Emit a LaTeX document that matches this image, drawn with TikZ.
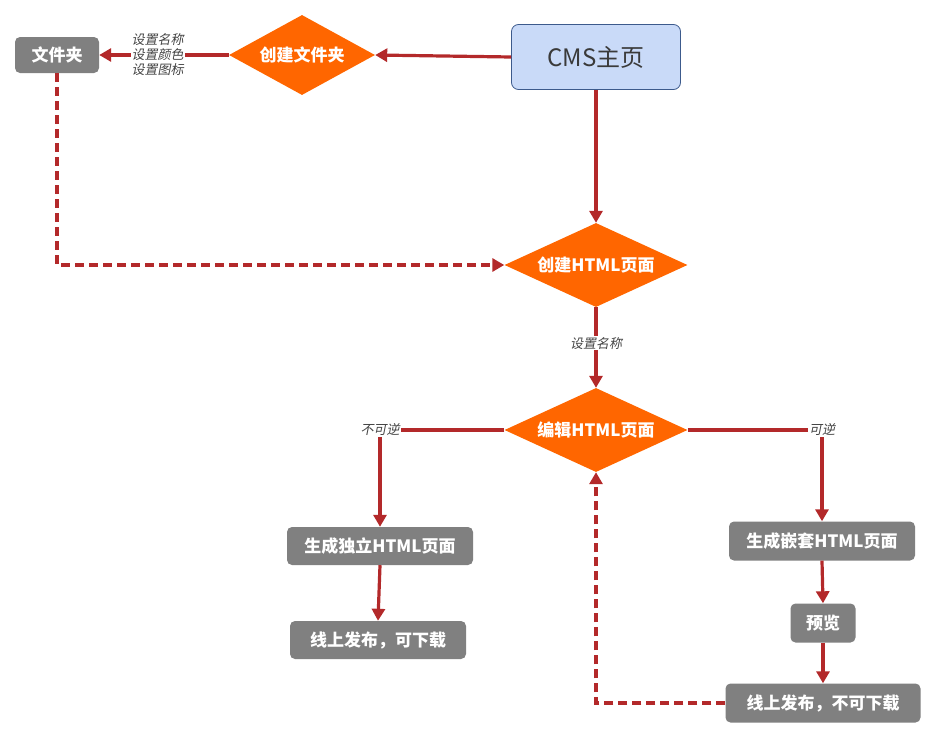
\documentclass[tikz,border=0pt]{standalone}
\usepackage{fontspec}
\setmainfont{Noto Sans CJK SC}
\newfontfamily\lblfont[FakeSlant=0.2]{Noto Sans CJK SC}
\usetikzlibrary{shapes.geometric,arrows.meta}
\definecolor{boxgray}{HTML}{808080}
\definecolor{dorange}{HTML}{FF6600}
\definecolor{linered}{HTML}{B3292A}
\definecolor{cmsfill}{HTML}{C9DAF8}
\definecolor{cmsborder}{HTML}{3C5A8C}
\definecolor{cmstext}{HTML}{3A3A3A}
\definecolor{lblgray}{HTML}{444444}
\begin{document}
\begin{tikzpicture}[x=1pt,y=-1pt,
  graybox/.style={rectangle,rounded corners=5pt,fill=boxgray,text=white,font=\fontsize{17}{19}\selectfont\bfseries,minimum height=38pt,inner sep=0pt},
  decision/.style={diamond,fill=dorange,text=white,font=\fontsize{17}{19}\selectfont\bfseries,inner sep=0pt},
  conn/.style={draw=linered,line width=3.2pt,-{Triangle[length=12pt,width=13pt]}},
  dconn/.style={conn,dash pattern=on 9pt off 5pt},
  lbl/.style={fill=white,text=lblgray,font=\lblfont\fontsize{13}{15}\selectfont,inner sep=1pt,align=center}
]
\useasboundingbox (0,0) rectangle (938,739);
\node[rectangle,rounded corners=7pt,fill=cmsfill,draw=cmsborder,line width=0.8pt,text=cmstext,font=\fontsize{24}{26}\selectfont,minimum width=169pt,minimum height=65pt] (cms) at (596,57) {CMS主页};
\node[decision,minimum width=146pt,minimum height=80pt,aspect=1.8] (mkdir) at (302,55) {创建文件夹};
\node[graybox,minimum width=84pt,minimum height=36pt] (folder) at (57,55) {文件夹};
\node[decision,minimum width=183pt,minimum height=84pt,aspect=2.2] (create) at (596,265) {创建HTML页面};
\node[decision,minimum width=183pt,minimum height=84pt,aspect=2.2] (edit) at (596,430) {编辑HTML页面};
\node[graybox,minimum width=186pt] (solo) at (380,546) {生成独立HTML页面};
\node[graybox,minimum width=176pt] (pub1) at (378,640) {线上发布，可下载};
\node[graybox,minimum width=186pt,minimum height=39pt] (nest) at (822,541) {生成嵌套HTML页面};
\node[graybox,minimum width=65pt,minimum height=39pt] (prev) at (823,623) {预览};
\node[graybox,minimum width=195pt,minimum height=39pt] (pub2) at (823,703) {线上发布，不可下载};

\draw[conn] (cms.west) -- (mkdir.east);
\draw[conn] (mkdir.west) -- node[lbl,pos=0.55]{设置名称\\设置颜色\\设置图标} (folder.east);
\draw[dconn] (folder.south) |- (create.west);
\draw[conn] (cms.south) -- (create.north);
\draw[conn] (create.south) -- node[lbl,pos=0.45]{设置名称} (edit.north);
\draw[conn] (edit.west) -| node[lbl,pos=0.5]{不可逆} (solo.north);
\draw[conn] (edit.east) -| node[lbl,pos=0.5]{可逆} (nest.north);
\draw[conn] (solo.south) -- (pub1.north);
\draw[conn] (nest.south) -- (prev.north);
\draw[conn] (prev.south) -- (pub2.north);
\draw[dconn] (pub2.west) -| (edit.south);
\end{tikzpicture}
\end{document}
